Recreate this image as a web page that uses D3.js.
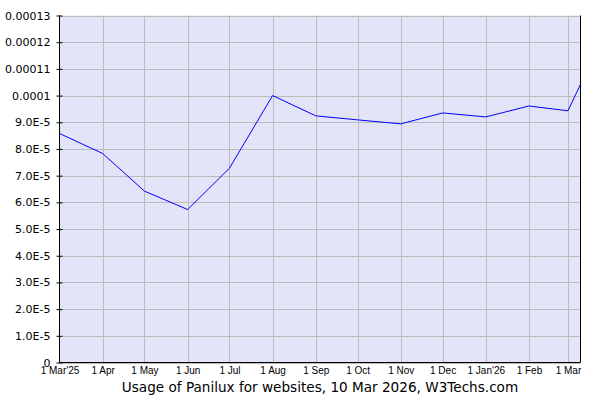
<!DOCTYPE html>
<html><head><meta charset="utf-8">
<script src="https://cdn.jsdelivr.net/npm/d3@7"></script>
<style>body{margin:0;background:#fff}svg{display:block}</style>
</head><body>
<svg id="c" width="600" height="400"></svg>
<script>
const dates = ["2025-03-01","2025-04-01","2025-05-01","2025-06-01","2025-07-01","2025-08-01","2025-09-01","2025-10-01","2025-11-01","2025-12-01","2026-01-01","2026-02-01","2026-03-01","2026-03-10"];
const values = [8.58e-5,7.83e-5,6.42e-5,5.73e-5,7.28e-5,1.0e-4,9.24e-5,9.09e-5,8.94e-5,9.35e-5,9.20e-5,9.61e-5,9.43e-5,1.042e-4];
const tickDates = ["2025-03-01","2025-04-01","2025-05-01","2025-06-01","2025-07-01","2025-08-01","2025-09-01","2025-10-01","2025-11-01","2025-12-01","2026-01-01","2026-02-01","2026-03-01"];
const tickLabels = ["1 Mar'25","1 Apr","1 May","1 Jun","1 Jul","1 Aug","1 Sep","1 Oct","1 Nov","1 Dec","1 Jan'26","1 Feb","1 Mar"];
const yTicks = [0,1e-5,2e-5,3e-5,4e-5,5e-5,6e-5,7e-5,8e-5,9e-5,1e-4,1.1e-4,1.2e-4,1.3e-4];
const yLabels = ["0","1.0E-5","2.0E-5","3.0E-5","4.0E-5","5.0E-5","6.0E-5","7.0E-5","8.0E-5","9.0E-5","0.0001","0.00011","0.00012","0.00013"];
const title = "Usage of Panilux for websites, 10 Mar 2026, W3Techs.com";

const parse = d3.utcParse("%Y-%m-%d");
const L=59.5, R=580.5, T=15.5, B=362.5;
const x = d3.scaleUtc().domain([parse("2025-03-01"), parse("2026-03-10")]).range([L,R]);
const y = d3.scaleLinear().domain([0,1.3e-4]).range([B,T]);
const svg = d3.select("#c");

svg.append("rect").attr("x",L).attr("y",T).attr("width",R-L).attr("height",B-T).attr("fill","#e4e4f8");

// horizontal grid
svg.append("g").selectAll("line").data(yTicks).join("line")
  .attr("x1",L).attr("x2",R).attr("y1",d=>Math.round(y(d))+0.5).attr("y2",d=>Math.round(y(d))+0.5)
  .attr("stroke","#bbbbbb").attr("stroke-width",1);
// vertical grid
svg.append("g").selectAll("line").data(tickDates.slice(1)).join("line")
  .attr("x1",d=>Math.round(x(parse(d)))+0.5).attr("x2",d=>Math.round(x(parse(d)))+0.5)
  .attr("y1",T).attr("y2",B).attr("stroke","#bbbbbb").attr("stroke-width",1);

// line
const line = d3.line().x((d,i)=>x(parse(dates[i]))).y(d=>y(d));
svg.append("path").datum(values).attr("d",line).attr("fill","none").attr("stroke","#0000ff").attr("stroke-width",1);

// y axis
const yAxis = d3.axisLeft(y).tickValues(yTicks).tickFormat((d,i)=>yLabels[i]).tickSize(5).tickPadding(4);
const ga = svg.append("g").attr("transform",`translate(${L},0)`).call(yAxis);
ga.select(".domain").remove();
ga.selectAll(".tick line").attr("stroke","#000").attr("x2",-3).attr("x1",3);
ga.selectAll("text").attr("font-family","DejaVu Sans, Verdana, sans-serif").attr("font-size","11px").attr("fill","#000").attr("x",-9);

// x axis labels
const xAxis = d3.axisBottom(x).tickValues(tickDates.map(parse)).tickFormat((d,i)=>tickLabels[i]).tickSize(0).tickPadding(4);
const gx = svg.append("g").attr("transform",`translate(0,${B})`).call(xAxis);
gx.select(".domain").remove();
gx.selectAll("text").attr("font-family","Liberation Sans, Arial, sans-serif").attr("font-size","10px").attr("fill","#000");

// frame lines
svg.append("line").attr("x1",L).attr("x2",L).attr("y1",T).attr("y2",B).attr("stroke","#000");
svg.append("line").attr("x1",R).attr("x2",R).attr("y1",T).attr("y2",B).attr("stroke","#000");
svg.append("line").attr("x1",L).attr("x2",R).attr("y1",B).attr("y2",B).attr("stroke","#000");

svg.append("text").attr("x",(L+R)/2).attr("y",392).attr("text-anchor","middle")
  .attr("font-family","DejaVu Sans, Verdana, sans-serif").attr("font-size","13.6px").attr("fill","#000").text(title);
</script>
</body></html>
